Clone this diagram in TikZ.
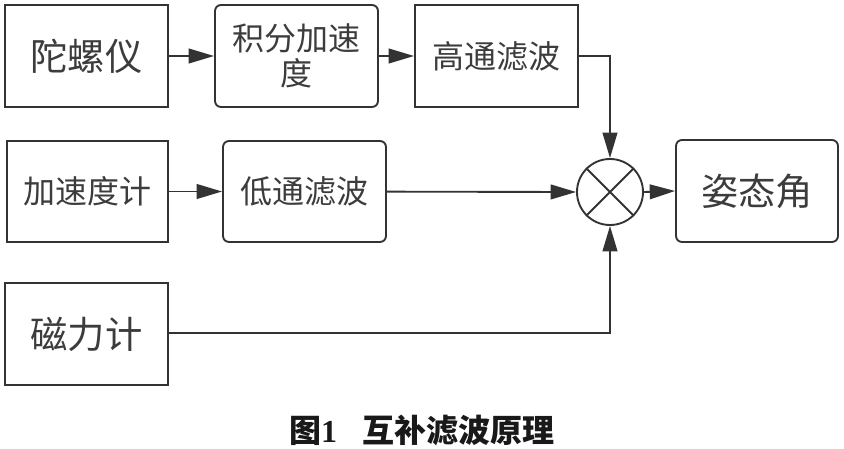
\documentclass[tikz,border=0pt]{standalone}
\usepackage{fontspec}
\newfontfamily\cjk{Noto Sans CJK SC}
\newfontfamily\capnum{Liberation Serif}
\usetikzlibrary{arrows.meta}
\definecolor{ln}{HTML}{333333}
\definecolor{tx}{HTML}{3C3C3C}
\begin{document}
\begin{tikzpicture}[x=0.75pt,y=-0.75pt,
  blk/.style={draw=ln,line width=1.4pt,inner sep=0pt,text=tx,align=center,
    minimum width=122.25pt,minimum height=76.5pt},
  rblk/.style={blk,rounded corners=4.5pt},
  big/.style={font=\cjk\fontsize{28pt}{32pt}\selectfont},
  mid/.style={font=\cjk\fontsize{24pt}{26.25pt}\selectfont},
  conn/.style={draw=ln,line width=1.4pt,-{Triangle[length=19pt,width=11pt]}},
  plain/.style={draw=ln,line width=1.4pt}]
\useasboundingbox (0,0) rectangle (844,449);
\node[blk,big] (gyro) at (86.5,56) {陀螺仪};
\node[rblk,mid] (int) at (296.5,56) {积分加速\\度};
\node[blk,mid] (hp) at (496.5,56) {高通滤波};
\node[blk,mid,minimum width=120.75pt,minimum height=75.75pt] (acc) at (87.5,191.5) {加速度计};
\node[rblk,mid,minimum height=75.75pt] (lp) at (304.5,191.5) {低通滤波};
\node[draw=ln,line width=1.4pt,circle,minimum size=49.5pt,inner sep=0pt] (sum) at (610,192) {};
\draw[plain] (sum.north west) -- (sum.south east) (sum.north east) -- (sum.south west);
\node[rblk,big,minimum width=121.5pt] (att) at (757,191) {姿态角};
\node[blk,big] (mag) at (86.5,334) {磁力计};
\coordinate (c1) at (610,56);
\coordinate (c2) at (610,333);
\draw[conn] (gyro) -- (int);
\draw[conn] (int) -- (hp);
\draw[conn] (hp.east) -- (c1) -- (sum.north);
\draw[conn] (acc) -- (lp);
\draw[conn] (lp) -- (sum.west);
\draw[conn] (sum.east) -- (att.west);
\draw[conn] (mag.east |- c2) -- (c2) -- (sum.south);
\node[font=\cjk\bfseries\fontsize{24pt}{26pt}\selectfont,text=black!90,inner sep=0pt] (cap) at (422,430) {图{\capnum\bfseries 1}\hspace{0.8em}互补滤波原理};
\end{tikzpicture}
\end{document}
